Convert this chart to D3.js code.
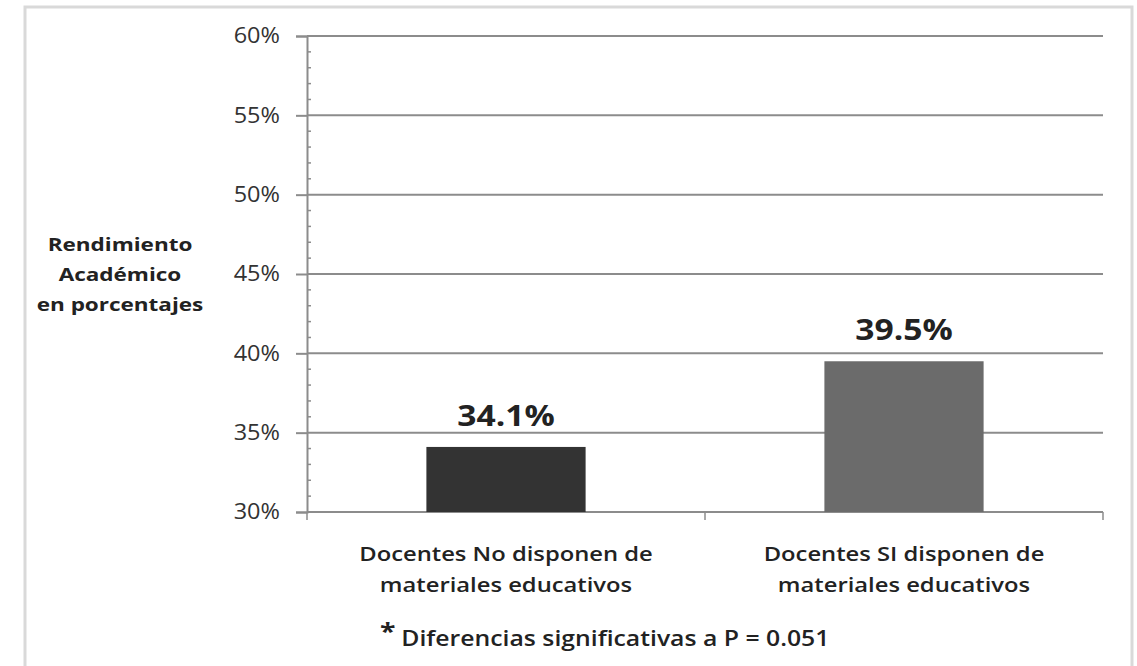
<!DOCTYPE html>
<html>
<head>
<meta charset="utf-8">
<script src="https://cdn.jsdelivr.net/npm/d3@7"></script>
<style>
  html, body { margin: 0; padding: 0; background: #fff; }
  svg { display: block; font-family: "Open Sans", Lato, sans-serif; }
</style>
</head>
<body>
<svg id="chart" width="1137" height="666"></svg>
<script>
// Rendimiento académico según disponibilidad de materiales educativos
const categories = [
  ["Docentes No disponen de", "materiales educativos"],
  ["Docentes SI disponen de", "materiales educativos"]
];
const values = [34.1, 39.5];
const barColors = ["#333333", "#6b6b6b"];
const yTicks = [30, 35, 40, 45, 50, 55, 60];
const yTitle = ["Rendimiento", "Académico", "en porcentajes"];
const footnote = "Diferencias significativas a P = 0.051";

const svg = d3.select("#chart");
const margin = { left: 307, right: 1103, top: 36, bottom: 512 };

// Outer frame
svg.append("rect")
  .attr("x", 25).attr("y", 7)
  .attr("width", 1107).attr("height", 670)
  .attr("fill", "#fff")
  .attr("stroke", "#d9d9d9").attr("stroke-width", 3);

const y = d3.scaleLinear().domain([30, 60]).range([margin.bottom, margin.top]);
const x = d3.scaleBand()
  .domain(d3.range(categories.length))
  .range([margin.left, margin.right])
  .paddingInner(0.6).paddingOuter(0.3);
const xCat = d3.scaleBand()
  .domain(d3.range(categories.length))
  .range([margin.left, margin.right]);

// Horizontal gridlines
svg.append("g").selectAll("line")
  .data(yTicks)
  .join("line")
  .attr("x1", margin.left).attr("x2", margin.right)
  .attr("y1", d => y(d)).attr("y2", d => y(d))
  .attr("stroke", "#8c8c8c").attr("stroke-width", 2);

// Minor ticks (inside)
const minor = d3.range(30, 60.001, 1).filter(v => v % 5 !== 0);
svg.append("g").selectAll("line")
  .data(minor)
  .join("line")
  .attr("x1", margin.left).attr("x2", margin.left + 4)
  .attr("y1", d => y(d)).attr("y2", d => y(d))
  .attr("stroke", "#8c8c8c").attr("stroke-width", 1.5);

// Y axis with outward major ticks; labels slightly widened
const yAxis = d3.axisLeft(y).tickValues(yTicks).tickSize(11)
  .tickFormat(d => d + "%");
const gy = svg.append("g").attr("transform", `translate(${margin.left},0)`).call(yAxis);
gy.select(".domain").attr("stroke", "#8c8c8c").attr("stroke-width", 2);
gy.selectAll(".tick line").attr("stroke", "#8c8c8c").attr("stroke-width", 2);
gy.selectAll(".tick text")
  .attr("x", 0)
  .attr("transform", "translate(-27,0) scale(1.12,1)")
  .attr("font-size", 21).attr("fill", "#333")
  .attr("font-family", "'Open Sans', sans-serif");

// X axis baseline with category separators
svg.append("line")
  .attr("x1", margin.left).attr("x2", margin.right)
  .attr("y1", margin.bottom).attr("y2", margin.bottom)
  .attr("stroke", "#8c8c8c").attr("stroke-width", 2);
svg.append("g").selectAll("line")
  .data(d3.range(categories.length + 1))
  .join("line")
  .attr("x1", d => margin.left + d * xCat.bandwidth())
  .attr("x2", d => margin.left + d * xCat.bandwidth())
  .attr("y1", margin.bottom).attr("y2", margin.bottom + 8)
  .attr("stroke", "#8c8c8c").attr("stroke-width", 1.5);

// Bars
svg.append("g").selectAll("rect")
  .data(values)
  .join("rect")
  .attr("x", (d, i) => x(i))
  .attr("width", x.bandwidth())
  .attr("y", d => y(d))
  .attr("height", d => y(30) - y(d))
  .attr("fill", (d, i) => barColors[i]);

// Value labels
svg.append("g").selectAll("g")
  .data(values)
  .join("g")
  .attr("transform", (d, i) => `translate(${x(i) + x.bandwidth() / 2},${y(d) - 21}) scale(1.2,1)`)
  .append("text")
  .attr("text-anchor", "middle")
  .attr("font-size", 28).attr("font-weight", "bold").attr("fill", "#222")
  .text(d => d.toFixed(1) + "%");

// Category labels (two lines each)
const catG = svg.append("g").selectAll("g")
  .data(categories)
  .join("g")
  .attr("transform", (d, i) => `translate(${xCat(i) + xCat.bandwidth() / 2},561) scale(1.16,1)`);
catG.append("text")
  .attr("text-anchor", "middle")
  .attr("font-size", 20.5).attr("font-weight", 600).attr("fill", "#222")
  .selectAll("tspan")
  .data(d => d)
  .join("tspan")
  .attr("x", 0)
  .attr("dy", (d, i) => i === 0 ? 0 : 31)
  .text(d => d);

// Y-axis title
svg.append("g")
  .attr("transform", "translate(120,251) scale(1.25,1)")
  .append("text")
  .attr("text-anchor", "middle")
  .attr("font-size", 18).attr("font-weight", "bold").attr("fill", "#222")
  .selectAll("tspan")
  .data(yTitle)
  .join("tspan")
  .attr("x", 0)
  .attr("dy", (d, i) => i === 0 ? 0 : 30)
  .text(d => d);

// Footnote
const fn = svg.append("g")
  .attr("transform", "translate(380,646) scale(1.18,1)")
  .append("text")
  .attr("font-size", 21).attr("font-weight", 600).attr("fill", "#222");
fn.append("tspan").attr("font-size", 24).attr("dy", -6).attr("font-weight", "bold").text("*");
fn.append("tspan").attr("dy", 6).attr("dx", 5).text(footnote);
</script>
</body>
</html>
